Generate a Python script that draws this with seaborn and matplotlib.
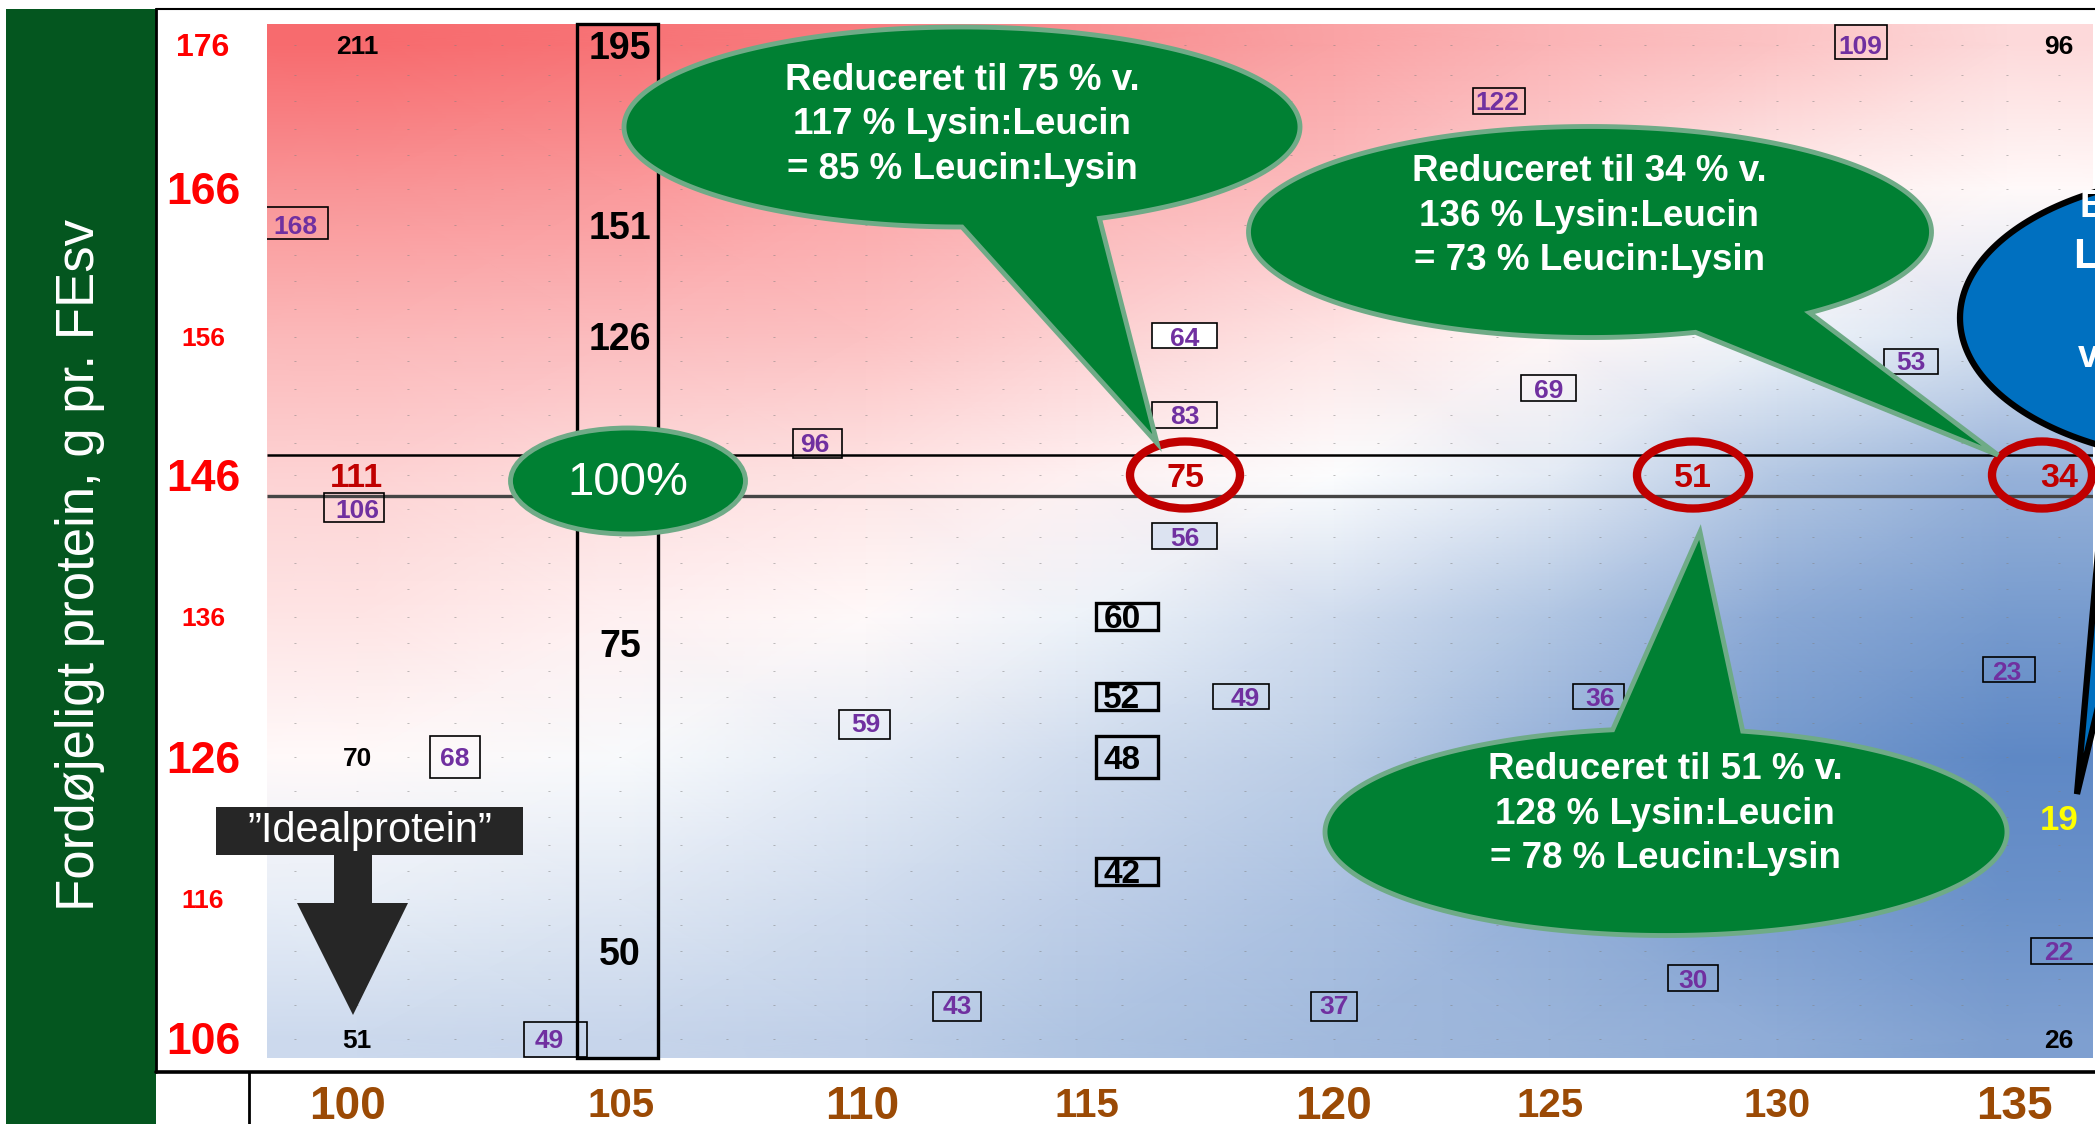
import numpy as np
import seaborn as sns
import matplotlib.pyplot as plt
from matplotlib.patches import Ellipse, Rectangle, Polygon
from matplotlib.lines import Line2D
from matplotlib.transforms import Affine2D

# table grid: lysin (x columns) and digestible protein (y rows)
lysin_levels = list(range(99, 137))
protein_levels = list(range(106, 177, 2))

# colour field, -1 = blue ... +1 = red
shade_cols = [100, 105, 110, 115, 120, 125, 130, 135]
shade_rows = [176, 166, 156, 146, 136, 126, 116, 106]
shade = [
    [1.00, 0.94, 0.88, 0.76, 0.62, 0.50, 0.40, 0.25],
    [0.72, 0.68, 0.60, 0.52, 0.45, 0.30, 0.12, 0.04],
    [0.48, 0.45, 0.42, 0.32, 0.18, 0.06, -0.10, -0.25],
    [0.30, 0.24, 0.18, 0.10, -0.02, -0.16, -0.45, -0.62],
    [0.18, 0.10, 0.04, -0.10, -0.28, -0.46, -0.68, -0.80],
    [0.04, -0.04, -0.15, -0.28, -0.40, -0.62, -0.82, -0.95],
    [-0.14, -0.19, -0.28, -0.38, -0.50, -0.64, -0.78, -0.88],
    [-0.30, -0.33, -0.38, -0.47, -0.55, -0.60, -0.66, -0.76],
]

# axis ticks
x_ticks = [100, 105, 110, 115, 120, 125, 130, 135]
x_tick_sizes = [33, 29, 33, 29, 33, 29, 29, 33]
x_tick_nudge = [-0.16, 0.02, -0.08, 0.24, 0.0, 0.02, 0.0, 0.15]   # label offsets in the sheet
y_ticks = [176, 166, 156, 146, 136, 126, 116, 106]
y_tick_sizes = [23, 32, 19, 32, 19, 32, 19, 32]

# cell values written in the table
plain_x = [100, 136, 100, 100, 136]
plain_y = [176, 176, 126, 106, 106]
plain_val = [211, 96, 70, 51, 26]

big_x = [105, 105, 105, 105, 105]
big_y = [176, 164, 156, 134, 112]
big_val = [195, 151, 126, 75, 50]

boxed_x = [99, 100, 109, 102, 104, 110, 112, 120, 128, 126, 118, 117, 117, 117, 125, 124, 132, 133, 135, 136]
boxed_y = [164, 144, 148, 126, 106, 128, 108, 108, 110, 130, 130, 156, 150, 142, 152, 172, 176, 154, 132, 112]
boxed_val = [168, 106, 96, 68, 49, 59, 43, 37, 30, 36, 49, 64, 83, 56, 69, 122, 109, 53, 23, 22]
boxed_fill = ['none'] * 11 + ['white', 'none', '#dce3f1', 'none'] + ['none'] * 5

thick_x = [116, 116, 116, 116]
thick_y = [136, 130, 126, 118]
thick_val = [60, 52, 48, 42]

circ_x = [117, 128, 136]
circ_y = [146, 146, 146]
circ_val = [75, 51, 34]

red_x, red_y, red_val = [100], [146], [111]
yellow_x, yellow_y, yellow_val = [136], [122], [19]

bubble_texts = [
    'Reduceret til 75 % v.\n117 % Lysin:Leucin\n= 85 % Leucin:Lysin',
    'Reduceret til 34 % v.\n136 % Lysin:Leucin\n= 73 % Leucin:Lysin',
    'Reduceret til 51 % v.\n128 % Lysin:Leucin\n= 78 % Leucin:Lysin',
]
blue_lines = ['Endnu mere', 'Leucin', 'reduceret', 'v. 19 %']

# layout of the original sheet: pixel centre of every column / row
W, H = 2095, 1124
column_px = [295, 357, 408, 455, 502, 549, 620, 681, 727, 774, 815, 866, 911, 957, 1003, 1040,
             1076, 1122, 1185, 1245, 1291, 1334, 1378, 1415, 1451, 1497, 1549, 1600, 1645, 1693,
             1740, 1777, 1813, 1860, 1911, 1962, 2007, 2059]
row_px = [1038, 1005, 978, 951, 924, 898, 871, 844, 817, 790, 757, 723, 696, 670, 643, 616, 589,
          563, 536, 509, 475, 442, 415, 388, 361, 336, 308, 281, 254, 225, 188, 154, 128, 101,
          74, 44.6]
col_anchor = np.array([90, 98.5] + lysin_levels + [136.5, 150], dtype=float)
col_anchor_px = np.array([-158, 267] + column_px + [2093, 2768], dtype=float)
row_anchor = np.array([100, 105] + protein_levels + [177, 185], dtype=float)
row_anchor_px = np.array([1128, 1058] + row_px + [24, -88], dtype=float)


def fx(x):
    return np.interp(x, col_anchor, col_anchor_px)


def fx_inv(p):
    return np.interp(p, col_anchor_px, col_anchor)


def fy(y):
    return -np.interp(y, row_anchor, row_anchor_px)


def fy_inv(p):
    return np.interp(p, -row_anchor_px, row_anchor)


GREEN_BAND = '#04561f'
BUBBLE = '#008033'
BUBBLE_EDGE = '#6fab87'
PURPLE = '#7030a0'
DARK_RED = '#c00000'
VA = 'center_baseline'

sns.set_theme(style='white')
plt.rcParams['font.family'] = ['Liberation Sans', 'DejaVu Sans']

fig = plt.figure(figsize=(W / 100, H / 100), dpi=100)
fig.patch.set_facecolor('white')
px = Affine2D().scale(1 / W, -1 / H).translate(0, 1) + fig.transFigure

# frame decorations
fig.add_artist(Rectangle((6, 9), 150, H - 9, transform=px, fc=GREEN_BAND, ec='none', zorder=0))
fig.add_artist(Line2D([156, W], [9, 9], transform=px, color='black', lw=1.5))
fig.add_artist(Line2D([156, 156], [9, 1072], transform=px, color='black', lw=2))
fig.add_artist(Line2D([156, W], [1072, 1072], transform=px, color='black', lw=2.6))
fig.add_artist(Line2D([249, 249], [1072, H], transform=px, color='black', lw=2))
fig.text(80 / W, 1 - 565 / H, 'Fordøjeligt protein, g pr. FEsv', rotation=90,
         ha='center', va='center', color='white', fontsize=38)

ax = fig.add_axes([267 / W, (H - 1058) / H, (2093 - 267) / W, (1058 - 24) / H])
ax.set_xscale('function', functions=(fx, fx_inv))
ax.set_yscale('function', functions=(fy, fy_inv))
ax.set_xlim(98.5, 136.5)
ax.set_ylim(105, 177)
for s in ax.spines.values():
    s.set_visible(False)

cmap = sns.blend_palette(['#5682c2', '#ffffff', '#f76b6e'], as_cmap=True)
mesh_x = [98.5] + shade_cols + [136.5]
mesh_y = [105] + shade_rows[::-1] + [177]
mesh_c = np.pad(np.array(shade)[::-1], 1, mode='edge')
ax.pcolormesh(mesh_x, mesh_y, mesh_c, shading='gouraud', cmap=cmap, vmin=-1, vmax=1, zorder=0)

# tiny cell dots
labelled = set(zip(plain_x + big_x + boxed_x + thick_x + circ_x + red_x + yellow_x,
                   plain_y + big_y + boxed_y + thick_y + circ_y + red_y + yellow_y))
for cx in lysin_levels:
    for cy in protein_levels:
        if (cx, cy) not in labelled:
            ax.text(cx, cy, '..', fontsize=5, color='#808080', ha='center', va='center', zorder=1)

# 146 row lines and 105 column box
ax.hlines(147.21, 98.5, 136.5, color='black', lw=1.8, zorder=2)
ax.hlines(144.76, 98.5, 136.5, color='#454545', lw=2.4, zorder=2)
ax.add_patch(Rectangle((104.4, 105), 1.22, 72, fill=False, ec='black', lw=2.4, zorder=3, clip_on=False))

# labels
for x, y, v in zip(plain_x, plain_y, plain_val):
    ax.text(x, y, str(v), fontsize=19, fontweight='bold', color='black', ha='center', va=VA, zorder=4)
for x, y, v in zip(big_x, big_y, big_val):
    ax.text(x, y, str(v), fontsize=27, fontweight='bold', color='black', ha='center', va=VA, zorder=4)
for x, y, v, fc in zip(boxed_x, boxed_y, boxed_val, boxed_fill):
    h = 2.5 if y == 126 else 1.9
    ax.add_patch(Rectangle((x - 0.53, y - h / 2), 1.06, h, fc=fc, ec='black', lw=1.2, zorder=4))
    ax.text(x, y, str(v), fontsize=19, fontweight='bold', color=PURPLE, ha='center', va=VA, zorder=5)
for x, y, v in zip(thick_x, thick_y, thick_val):
    h = 2.5 if y == 126 else 2.0
    ax.add_patch(Rectangle((x - 0.57, y - h / 2), 1.14, h, fill=False, ec='black', lw=2.4, zorder=4))
    ax.text(x, y, str(v), fontsize=24, fontweight='bold', color='black', ha='center', va=VA, zorder=5)
for x, y, v in zip(circ_x, circ_y, circ_val):
    ax.text(x, y, str(v), fontsize=24.5, fontweight='bold', color=DARK_RED, ha='center', va=VA, zorder=5)
for x, y, v in zip(red_x, red_y, red_val):
    ax.text(x, y, str(v), fontsize=24.5, fontweight='bold', color=DARK_RED, ha='center', va=VA, zorder=4)
for x, y, v in zip(yellow_x, yellow_y, yellow_val):
    ax.text(x, y, str(v), fontsize=25, fontweight='bold', color='#ffff00', ha='center', va=VA, zorder=4)

# red rings round the circled cells (drawn in sheet pixels so they stay round)
for x, y, w, dx in zip(circ_x, circ_y, [110, 112, 100], [0, 0, -17]):
    fig.add_artist(Ellipse((fx(x) + dx, -fy(y)), w, 67, transform=px, fill=False,
                           ec=DARK_RED, lw=6, zorder=4))


def bubble(cx, cy, w, h, gap, tip, fc, ec, lw):
    a0, a1 = np.radians(gap)
    t = np.linspace(a1, a0 + 2 * np.pi, 240)
    pts = np.column_stack([cx + w / 2 * np.cos(t), cy + h / 2 * np.sin(t)])
    pts = np.vstack([pts, tip])
    fig.add_artist(Polygon(pts, closed=True, transform=px, fc=fc, ec=ec, lw=lw, zorder=6))


bubble(962, 127, 676, 200, (66, 90), (1157, 443), BUBBLE, BUBBLE_EDGE, 3.5)
bubble(1590, 232, 683, 211, (50, 72), (1998, 455), BUBBLE, BUBBLE_EDGE, 3.5)
bubble(1666, 832, 682, 207, (261, 283), (1700, 532), BUBBLE, BUBBLE_EDGE, 3.5)
bubble(2222, 318, 524, 288, (104, 116), (2077, 794), '#0070c0', 'black', 4.5)

for (tx, ty), txt in zip([(962, 125), (1589, 216), (1665, 814)], bubble_texts):
    fig.text(tx / W, 1 - ty / H, txt, fontsize=26.5, fontweight='bold', color='white',
             ha='center', va='center', linespacing=1.35, zorder=7)

for (tx, ty), txt, fs in zip([(2080, 207), (2073, 257), (2140, 307), (2078, 357)], blue_lines, [27, 31, 27, 27]):
    fig.text(tx / W, 1 - ty / H, txt, fontsize=fs, fontweight='bold', color='white',
             ha='left', va='center', zorder=7)

# 100 % marker
fig.add_artist(Ellipse((628, 481), 235, 106, transform=px, fc=BUBBLE, ec=BUBBLE_EDGE, lw=3.5, zorder=6))
fig.text(628 / W, 1 - 483 / H, '100%', fontsize=34, color='white', ha='center', va='center', zorder=7)

# "Idealprotein" tag with arrow
fig.add_artist(Rectangle((216, 807), 307, 48, transform=px, fc='#262626', ec='none', zorder=6))
fig.text(370 / W, 1 - 831 / H, '”Idealprotein”', fontsize=30, color='white', ha='center', va='center', zorder=7)
fig.add_artist(Polygon([(334, 854), (372, 854), (372, 903), (408, 903), (353, 1015), (297, 903), (334, 903)],
                       closed=True, transform=px, fc='#262626', ec='none', zorder=6))

# ticks
ax.set_xticks([t + d for t, d in zip(x_ticks, x_tick_nudge)])
ax.set_xticklabels([str(v) for v in x_ticks], fontweight='bold', color='#9b4a05')
for lab, fs in zip(ax.get_xticklabels(), x_tick_sizes):
    lab.set_fontsize(fs)
    lab.set_va(VA)
ax.set_yticks(y_ticks)
ax.set_yticklabels([str(v) for v in y_ticks], fontweight='bold', color='#ff0000')
for lab, fs in zip(ax.get_yticklabels(), y_tick_sizes):
    lab.set_fontsize(fs)
    lab.set_ha('center')
    lab.set_va(VA)
ax.minorticks_off()
ax.tick_params(axis='x', length=0, pad=31.5)
ax.tick_params(axis='y', length=0, pad=46)
ax.grid(False)

fig.savefig('out.png', dpi=100)
